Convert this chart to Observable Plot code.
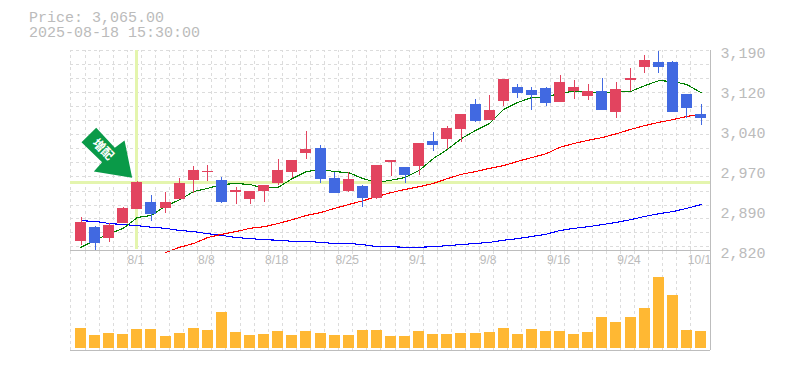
<!DOCTYPE html>
<html>
<head>
<meta charset="utf-8">
<script src="https://cdn.jsdelivr.net/npm/d3@7"></script>
<script src="https://cdn.jsdelivr.net/npm/@observablehq/plot@0.6"></script>
<style>
html,body{margin:0;padding:0;background:#fff;overflow:hidden}
#chart{position:relative;width:785px;height:370px}
#chart svg{position:absolute;left:0;background:transparent}
#head{position:absolute;left:29px;top:11px;font:15px/15px "Liberation Mono",monospace;color:#bbb;white-space:pre}
</style>
</head>
<body>
<div id="chart"><div id="head">Price: 3,065.00
2025-08-18 15:30:00</div></div>
<script>
const opens  = [2837,2863,2842,2870,2896,2909,2898,2914,2950,2964,2950,2927,2914,2929,2944,2964,3000,3009,2953,2929,2938,2916,2983,2974,2975,3022,3025,3044,3090,3060,3096,3122,3116,3120,3094,3114,3105,3114,3075,3134,3159,3168,3168,3109,3072];
const highs  = [2881,2864,2870,2900,2948,2922,2927,2953,2975,2977,2955,2937,2929,2940,2988,2986,3040,3014,2964,2964,2940,2977,2986,2974,3018,3038,3049,3072,3099,3107,3136,3127,3122,3122,3144,3134,3127,3138,3131,3157,3181,3188,3170,3109,3090];
const lows   = [2829,2820,2835,2870,2896,2874,2888,2914,2925,2948,2907,2905,2905,2909,2940,2953,2988,2944,2925,2927,2900,2914,2957,2944,2959,3003,3007,3020,3057,3060,3086,3101,3079,3086,3094,3099,3097,3079,3064,3114,3147,3147,3075,3064,3051];
const closes = [2872,2833,2866,2898,2946,2887,2909,2944,2968,2966,2909,2931,2929,2940,2968,2986,3007,2951,2925,2951,2916,2977,2986,2959,3018,3014,3046,3072,3059,3079,3136,3110,3107,3092,3131,3122,3114,3079,3118,3138,3172,3159,3075,3083,3064];
const volumes = [20,13,15,14,19,19,12,15,20,18,36,16,13,14,17,13,17,15,13,13,18,18,12,12,17,14,14,15,15,16,20,14,19,17,17,14,16,31,26,31,40,71,53,18,17];
const maShort = [2826,2839,2851,2861,2881,2885,2902,2914,2929,2935,2942,2944,2942,2935,2937,2953,2966,2970,2966,2964,2953,2946,2950,2955,2968,2990,3007,3027,3042,3055,3081,3094,3103,3103,3112,3114,3114,3110,3114,3114,3125,3134,3133,3127,3112];
const maMid = [null,null,null,null,null,null,2816,2826,2833,2844,2850,2855,2861,2864,2870,2877,2885,2890,2898,2905,2912,2920,2927,2933,2938,2944,2953,2961,2966,2972,2977,2985,2992,2999,3011,3018,3024,3029,3036,3044,3051,3057,3062,3068,3072];
const maLong = [2875,2874,2870,2868,2866,2863,2861,2857,2855,2851,2848,2844,2842,2840,2839,2837,2837,2835,2833,2833,2831,2827,2827,2826,2826,2827,2829,2831,2833,2835,2839,2842,2846,2850,2857,2861,2864,2868,2872,2877,2883,2888,2892,2898,2905];
const dateTicks = [4,9,14,19,24,29,34,39,44];
const dateLabels = ["8/1","8/8","8/18","8/25","9/1","9/8","9/16","9/24","10/1"];
const priceTicks = [3190,3116,3042,2968,2894,2820];
const priceLabels = ["3,190","3,120","3,040","2,970","2,890","2,820"];
const gridPrices = [3190,3164,3138,3112,3086,3060,3034,3008,2982,2956,2930,2904,2879,2853,2827];
const crossIndex = 4.0;
const crossPrice = 2946;
const arrowIdx = [0.035,1.08,2.40,3.09,3.63,0.91,1.50,0.035];
const arrowPrice = [3020.4,3047,3010,3023.5,2954.5,2966,2983.4,3020.4];
const arrowLabel = "増配";
const arrowLabelIdx = 1.56, arrowLabelPrice = 3007;

const idx = d3.range(opens.length);
const gridX = idx.map(i => i - 0.71);
const xRight = 44.68, xLeft = -0.71;
const xScale = {type:"linear", domain:[0,44], range:[80.5,700.5], axis:null};
const RED="#e2445f", BLUE="#4169e1", GRID="#dcdcdc", AXIS="#bdbdbd", CROSS="#e4f5ae";
const dir = i => closes[i] >= opens[i] ? RED : BLUE;
const lineMark = (vals,color) => Plot.line(idx.filter(i=>vals[i]!=null),{x:i=>i,y:i=>vals[i],stroke:color,strokeWidth:1.1,shapeRendering:"crispEdges"});

const pricePane = Plot.plot({
  width:785,height:270,marginTop:50,marginBottom:20,marginLeft:70,marginRight:75,
  style:{background:"transparent"},
  x:xScale,
  y:{domain:[2820,3190],range:[250,50]},
  marks:[
    Plot.ruleY(gridPrices,{x1:xLeft,x2:xRight,stroke:GRID,strokeDasharray:"3,3",shapeRendering:"crispEdges"}),
    Plot.ruleX(gridX,{y1:2820,y2:3190,stroke:GRID,strokeDasharray:"3,3",shapeRendering:"crispEdges"}),
    Plot.ruleY([crossPrice],{x1:xLeft,x2:xRight,stroke:CROSS,strokeWidth:3,shapeRendering:"crispEdges"}),
    Plot.ruleX([crossIndex-0.03],{y1:2822,y2:3190,stroke:CROSS,strokeWidth:3,shapeRendering:"crispEdges"}),
    lineMark(maLong,"#0000ff"),
    lineMark(maMid,"#ff0000"),
    lineMark(maShort,"#008000"),
    Plot.ruleX(idx,{x:i=>i,y1:i=>lows[i],y2:i=>highs[i],stroke:dir,strokeWidth:1,shapeRendering:"crispEdges"}),
    Plot.rectY(idx,{x1:i=>i-0.39,x2:i=>i+0.39,y1:i=>Math.min(opens[i],closes[i]),y2:i=>Math.max(opens[i],closes[i]),fill:dir,inset:0,shapeRendering:"crispEdges"}),
    Plot.line(arrowIdx.map((a,k)=>[a,arrowPrice[k]]),{x:d=>d[0],y:d=>d[1],fill:"#0a9a48",stroke:null}),
    Plot.text([arrowLabel],{x:arrowLabelIdx,y:arrowLabelPrice,text:d=>d,rotate:45,fill:"#fff",fontSize:12,fontWeight:"bold",fontFamily:"Noto Sans CJK JP"}),
    Plot.ruleY([2820],{x1:xLeft,x2:xRight,stroke:AXIS,shapeRendering:"crispEdges"}),
    Plot.ruleX([xRight],{y1:2820,y2:3190,stroke:AXIS,shapeRendering:"crispEdges"}),
    Plot.axisY({anchor:"right",ticks:priceTicks,tickSize:0,tickPadding:10,dy:3,
      tickFormat:d=>priceLabels[priceTicks.indexOf(d)],fontSize:15,fontFamily:"Liberation Mono",fill:"#bbb",label:null,textAnchor:"start"}),
    Plot.axisX({ticks:dateTicks,tickSize:0,tickPadding:5,dx:-1.5,
      tickFormat:d=>dateLabels[dateTicks.indexOf(d)],fontSize:12,fontFamily:"Liberation Sans",fill:"#bbb",label:null})
  ]
});
pricePane.style.top="0px";

const volumePane = Plot.plot({
  width:785,height:120,marginTop:0,marginBottom:20,marginLeft:70,marginRight:75,
  style:{background:"transparent"},
  x:xScale,
  y:{domain:[0,98],range:[98,0],axis:null},
  marks:[
    Plot.ruleX(gridX,{y1:-2,y2:98,stroke:GRID,strokeDasharray:"3,3",shapeRendering:"crispEdges"}),
    Plot.rectY(idx,{x1:i=>i-0.39,x2:i=>i+0.39,y1:0,y2:i=>volumes[i],fill:"#ffb833",inset:0,shapeRendering:"crispEdges"}),
    Plot.ruleY([-2],{x1:xLeft,x2:xRight,stroke:AXIS,shapeRendering:"crispEdges"}),
    Plot.ruleX([xRight],{y1:-2,y2:98,stroke:AXIS,shapeRendering:"crispEdges"})
  ]
});
volumePane.style.top="250px";
const c=document.getElementById("chart");
c.appendChild(volumePane);
c.appendChild(pricePane);
</script>
</body>
</html>
